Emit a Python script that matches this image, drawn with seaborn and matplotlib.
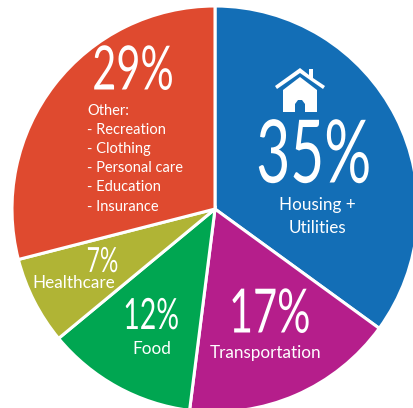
import matplotlib
matplotlib.use("Agg")
import matplotlib.pyplot as plt
import matplotlib.patches as mpatches
import matplotlib.patheffects as pe
from matplotlib.path import Path
from matplotlib.transforms import Affine2D
import seaborn as sns

categories = ["Housing + Utilities", "Transportation", "Food", "Healthcare", "Other"]
shares = [35, 17, 12, 7, 29]
colors = ["#136EB6", "#B51E8B", "#00A651", "#B0B435", "#DF4A2F"]
other_items = ["Recreation", "Clothing", "Personal care", "Education", "Insurance"]

W, H = 413, 408
sns.set_theme(style="white")
plt.rcParams["font.family"] = ["Lato", "DejaVu Sans"]


class Squeeze(pe.AbstractPathEffect):
    # no condensed font installed, so narrow the glyphs around their middle when drawn
    def __init__(self, sx):
        super().__init__()
        self.sx = sx

    def draw_path(self, renderer, gc, tpath, affine, rgbFace=None):
        mid = tpath.get_extents().width / 2
        squeeze = Affine2D().translate(-mid, 0).scale(self.sx, 1).translate(mid, 0)
        renderer.draw_path(gc, tpath, squeeze + affine, rgbFace)


fig = plt.figure(figsize=(W / 100, H / 100), dpi=100)
ax = fig.add_axes([0, 0, 1, 1])

ax.pie(shares, colors=sns.color_palette(colors), startangle=90, counterclock=False,
       center=(215, H - 209), radius=203, frame=True,
       wedgeprops=dict(edgecolor="white", linewidth=2.2))
ax.set_xlim(0, W)
ax.set_ylim(0, H)
ax.set_aspect("equal")
ax.axis("off")


def label(x, y, s, size=12.3, **kw):
    # x, y in image pixels from the top left
    kw.setdefault("ha", "center")
    ax.text(x, H - y, s, color="white", fontsize=size, va="center", **kw)


def big(x, y, s, size, sx=0.68):
    label(x, y, s, size=size, path_effects=[Squeeze(sx)])


big(134, 72, f"{shares[4]}%", 44)
label(87, 111, f"{categories[4]}:", ha="left", size=10.5)
for y, item in zip([130, 149, 168, 187, 207], other_items):
    label(87, y, f"- {item}", ha="left", size=10.5)

big(315, 158, f"{shares[0]}%", 63, sx=0.67)
label(317, 205, "Housing +")
label(317, 228, "Utilities")

big(271, 315, f"{shares[1]}%", 44)
label(266, 353, categories[1])

big(152, 317, f"{shares[2]}%", 31, sx=0.66)
label(152, 349, categories[2])

big(103, 262, f"{shares[3]}%", 25, sx=0.66)
label(74, 283, categories[3])

# house icon
roof = [(275, 86), (300, 68), (309, 75), (309, 69), (313, 69), (313, 78), (325, 86),
        (323, 89), (300, 73), (277, 89), (275, 86)]
body = [(283, 90), (300, 77), (317, 90), (317, 112), (305, 112), (305, 104), (302, 100),
        (298, 100), (295, 104), (295, 112), (283, 112), (283, 90)]
for pts in (roof, body):
    ax.add_patch(mpatches.PathPatch(Path([(x, H - y) for x, y in pts]), fc="white", ec="none"))

fig.savefig("out.png", dpi=100)
